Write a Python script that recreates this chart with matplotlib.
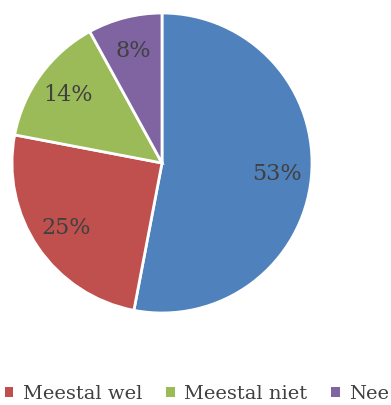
import matplotlib
matplotlib.use("Agg")
import matplotlib.pyplot as plt
from matplotlib.patches import Patch

# data
categories = ["Ja", "Meestal wel", "Meestal niet", "Nee"]
values = [53, 25, 14, 8]
colors = ["#4F81BD", "#C0504D", "#9BBB59", "#8064A2"]

plt.rcParams['font.family'] = ['DejaVu Serif']
text_color = "#404040"

fig = plt.figure(figsize=(3.91, 4.05), dpi=100)
# pie centre ~ (162,163) px, radius ~150 px
ax = fig.add_axes([12 / 391, (405 - 163 - 150) / 405, 300 / 391, 300 / 405])

wedges, texts, autotexts = ax.pie(
    values, colors=colors, startangle=90, counterclock=False,
    autopct=lambda p: "%d%%" % round(p), pctdistance=0.77,
    wedgeprops=dict(edgecolor="white", linewidth=2),
    textprops=dict(color=text_color, fontsize=16))
ax.set_xlim(-1.0, 1.0)
ax.set_ylim(-1.0, 1.0)
ax.set_aspect("equal")

# the first legend entry sits outside the visible area, only these show
handles = [Patch(facecolor=colors[i], edgecolor="none") for i in range(1, 4)]
leg = fig.legend(handles, categories[1:], loc="center left",
                 bbox_to_anchor=(0.012, (405 - 394) / 405),
                 ncol=3, frameon=False, fontsize=14,
                 handlelength=0.45, handleheight=0.45, handletextpad=0.5,
                 columnspacing=1.2, borderpad=0, borderaxespad=0)
for t in leg.get_texts():
    t.set_color(text_color)

fig.savefig("out.png", dpi=100)
